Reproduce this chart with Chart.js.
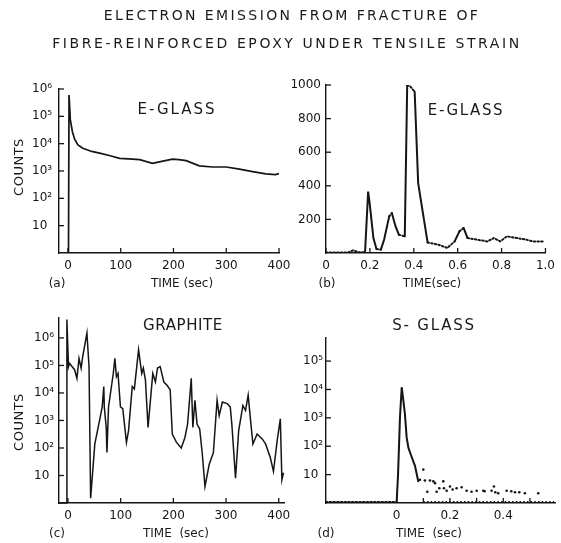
<!DOCTYPE html>
<html lang="en">
<head>
  <meta charset="UTF-8" />
  <title>Electron emission from fracture of fibre-reinforced epoxy</title>
  <script src="https://cdn.jsdelivr.net/npm/chart.js"></script>
  <style>
    html, body { margin: 0; padding: 0; background: #fff; }
    #page { position: relative; width: 561px; height: 543px; overflow: hidden; font-family: "DejaVu Sans", sans-serif; color: #1a1a1a; }
    .layer { position: absolute; left: 0; top: 0; width: 561px; height: 543px; }
    .txt { position: absolute; white-space: nowrap; transform: translate(-50%, -50%); }
  </style>
</head>
<body>
<div id="page">
  <div class="layer"><canvas id="chartA"></canvas></div>
  <div class="layer"><canvas id="chartB"></canvas></div>
  <div class="layer"><canvas id="chartC"></canvas></div>
  <div class="layer"><canvas id="chartD"></canvas></div>

  <div class="txt" style="left:292px;top:15px;font-size:14px;letter-spacing:2.4px">ELECTRON EMISSION FROM FRACTURE OF</div>
  <div class="txt" style="left:287px;top:43px;font-size:14px;letter-spacing:2.6px">FIBRE-REINFORCED EPOXY UNDER TENSILE STRAIN</div>

  <div class="txt" style="left:177px;top:109px;font-size:15px;letter-spacing:2px">E-GLASS</div>
  <div class="txt" style="left:466px;top:110px;font-size:15px;letter-spacing:1.6px">E-GLASS</div>
  <div class="txt" style="left:183px;top:325px;font-size:15px;letter-spacing:0.6px">GRAPHITE</div>
  <div class="txt" style="left:434px;top:325px;font-size:15px;letter-spacing:1.8px">S- GLASS</div>

  <div class="txt" style="left:18px;top:167px;font-size:13px;letter-spacing:0.5px;transform:translate(-50%,-50%) rotate(-90deg)">COUNTS</div>
  <div class="txt" style="left:18px;top:422px;font-size:13px;letter-spacing:0.5px;transform:translate(-50%,-50%) rotate(-90deg)">COUNTS</div>

  <div class="txt" style="left:57px;top:283px;font-size:12px">(a)</div>
  <div class="txt" style="left:182px;top:283px;font-size:12px">TIME (sec)</div>
  <div class="txt" style="left:327px;top:283px;font-size:12px">(b)</div>
  <div class="txt" style="left:432px;top:283px;font-size:12px">TIME(sec)</div>
  <div class="txt" style="left:57px;top:533px;font-size:12px">(c)</div>
  <div class="txt" style="left:176px;top:533px;font-size:12px">TIME &nbsp;(sec)</div>
  <div class="txt" style="left:326px;top:533px;font-size:12px">(d)</div>
  <div class="txt" style="left:429px;top:533px;font-size:12px">TIME &nbsp;(sec)</div>
</div>

<script>
// (a) E-glass, counts vs time (sec)
const aTime   = [-17, 1, 2, 4.5, 8.3, 12.6, 18.9, 28, 36, 45, 60, 80, 98, 115, 136, 160, 180, 198, 210, 224, 249, 274, 300, 325, 350, 375, 393, 400];
const aCounts = [1, 1, 6e5, 7.4e4, 2.8e4, 1.45e4, 9e3, 6.8e3, 6e3, 5.2e3, 4.5e3, 3.6e3, 2.9e3, 2.8e3, 2.6e3, 1.9e3, 2.3e3, 2.7e3, 2.6e3, 2.4e3, 1.55e3, 1.4e3, 1.4e3, 1.17e3, 950, 780, 740, 800];
const aXTicks = [0, 100, 200, 300, 400];
const logTicks = [10, 100, 1e3, 1e4, 1e5, 1e6];
const logLabels = ['10', '10²', '10³', '10⁴', '10⁵', '10⁶'];

// (b) E-glass, first second
const bTime   = [0, 0.10, 0.124, 0.15, 0.178, 0.192, 0.198, 0.216, 0.23, 0.25, 0.265, 0.288, 0.30, 0.317, 0.332, 0.359, 0.37, 0.385, 0.404, 0.42, 0.444, 0.463, 0.511, 0.553, 0.586, 0.608, 0.627, 0.645, 0.69, 0.735, 0.765, 0.794, 0.824, 0.869, 0.914, 0.943, 0.988];
const bCounts = [3, 3, 16, 4, 5, 366, 307, 89, 24, 20, 80, 218, 238, 158, 109, 99, 1000, 990, 960, 416, 218, 63, 50, 30, 69, 129, 149, 89, 79, 69, 89, 69, 99, 89, 79, 69, 69];
const bXTicks = [0, 0.2, 0.4, 0.6, 0.8, 1.0];
const bXLabels = ['0', '0.2', '0.4', '0.6', '0.8', '1.0'];
const bYTicks = [200, 400, 600, 800, 1000];

// (c) graphite
const cTime   = [-17, -3, -2, 1, 3, 8, 12.6, 17, 21, 25, 28, 36, 40, 43, 51, 60, 65, 68, 69, 72.6, 74, 77, 86, 89, 92, 95, 99.6, 104, 111, 115, 122, 126, 134, 140, 143, 147, 152, 161, 166, 170, 175, 182, 188, 194, 198, 206, 215, 222, 227, 234, 237, 241, 245, 250, 255, 260, 268, 276, 283, 287, 293, 302, 308, 311, 318, 324, 332, 337, 342, 346, 351, 359, 369, 375, 384, 390, 397, 403, 406, 409];
const cCounts = [1, 1, 4.7e6, 9e4, 1.2e5, 9e4, 7e4, 3.4e4, 1.8e5, 8e4, 2.1e5, 1.5e6, 9e4, 1.5, 140, 1e3, 3.1e3, 1.7e4, 3.1e3, 560, 68, 3.1e3, 5.1e4, 1.8e5, 3.9e4, 5.1e4, 3.1e3, 2.7e3, 160, 430, 1.7e4, 1.4e4, 3.7e5, 5.1e4, 8e4, 3e4, 560, 5.1e4, 2.5e4, 8e4, 9e4, 2.5e4, 1.9e4, 1.3e4, 320, 160, 100, 240, 740, 3.4e4, 560, 5.4e3, 740, 490, 59, 4, 25, 68, 5.4e3, 1.5e3, 4.7e3, 4.1e3, 3.1e3, 740, 8, 430, 3.5e3, 2.3e3, 8.3e3, 1.3e3, 140, 320, 210, 140, 45, 14, 180, 1.15e3, 7, 12.6];

// (d) S-glass
const dPeakTime   = [-0.265, 0, 0.005, 0.0125, 0.019, 0.025, 0.031, 0.0375, 0.044, 0.053, 0.069, 0.081];
const dPeakCounts = [1.08, 1.08, 8.7, 1050, 1.2e4, 4200, 1380, 204, 89, 51, 20, 5.8];
const dTailTime   = [0.0875, 0.1, 0.106, 0.115, 0.125, 0.1375, 0.144, 0.15, 0.16, 0.175, 0.1775, 0.1875, 0.2, 0.21, 0.225, 0.244, 0.2625, 0.281, 0.3, 0.325, 0.33, 0.356, 0.365, 0.37, 0.381, 0.4125, 0.43, 0.444, 0.46, 0.481, 0.531];
const dTailCounts = [6.6, 15, 6.2, 2.5, 6.2, 5.8, 5, 2.5, 3.3, 5.8, 3.3, 2.7, 3.8, 3.0, 3.3, 3.6, 2.7, 2.5, 2.7, 2.7, 2.6, 2.7, 3.8, 2.4, 2.2, 2.7, 2.6, 2.4, 2.4, 2.2, 2.2];
const dBaseTime   = [0.1, 0.59];
const dBaseCounts = [1.08, 1.08];
const dXTicks = [0, 0.1, 0.2, 0.3, 0.4, 0.5];
const dXLabels = ['0', '', '0.2', '', '0.4', ''];

const INK = '#151515';
const tickFont = { family: 'DejaVu Sans', size: 12 };
const W = 561, H = 543, XH = 22;

const inwardTicks = {
  id: 'inwardTicks',
  afterDraw(chart) {
    const ctx = chart.ctx, a = chart.chartArea;
    const xs = chart.scales.x, ys = chart.scales.y;
    ctx.save();
    ctx.strokeStyle = INK;
    ctx.lineWidth = 1.3;
    xs.ticks.forEach(t => {
      const px = xs.getPixelForValue(t.value);
      ctx.beginPath(); ctx.moveTo(px, a.bottom); ctx.lineTo(px, a.bottom - 5); ctx.stroke();
    });
    ys.ticks.forEach(t => {
      const py = ys.getPixelForValue(t.value);
      ctx.beginPath(); ctx.moveTo(a.left, py); ctx.lineTo(a.left + 5, py); ctx.stroke();
    });
    ctx.restore();
  }
};

function pts(xs, ys) {
  return xs.map((x, i) => ({ x: x, y: ys[i] }));
}

// steep segments solid, flat ones dotted
const dashDot = {
  borderDash: ctx => Math.abs(ctx.p1.y - ctx.p0.y) > 1.5 * Math.abs(ctx.p1.x - ctx.p0.x) ? [] : [1.5, 2.2]
};

function makePanel(id, p, datasets) {
  new Chart(document.getElementById(id), {
    type: 'line',
    data: { datasets: datasets },
    options: {
      responsive: true,
      maintainAspectRatio: false,
      animation: false,
      layout: { padding: { left: p.box[0] - p.yW, top: p.box[1], right: W - p.box[2], bottom: H - p.box[3] - XH } },
      plugins: { legend: { display: false }, tooltip: { enabled: false } },
      scales: {
        x: {
          type: 'linear',
          min: p.xMin, max: p.xMax,
          afterFit: s => { s.height = XH; },
          afterBuildTicks: s => { s.ticks = p.xTicks.map(v => ({ value: v })); },
          ticks: { autoSkip: false, maxRotation: 0, padding: 6, color: INK, font: tickFont,
                   callback: (v, i) => p.xLabels[i] },
          grid: { drawOnChartArea: false, drawTicks: false, color: 'rgba(0,0,0,0)' },
          border: { display: true, color: INK, width: 1.4 }
        },
        y: {
          type: p.yType,
          min: p.yMin, max: p.yMax,
          afterFit: s => { s.width = p.yW; },
          afterBuildTicks: s => { s.ticks = p.yTicks.map(v => ({ value: v })); },
          ticks: { autoSkip: false, padding: p.yPad, crossAlign: p.yAlign, color: INK, font: tickFont,
                   callback: (v, i) => p.yLabels[i] },
          grid: { drawOnChartArea: false, drawTicks: false, color: 'rgba(0,0,0,0)' },
          border: { display: true, color: INK, width: 1.4 }
        }
      }
    },
    plugins: [inwardTicks]
  });
}

makePanel('chartA', {
  box: [59, 89, 279, 253], yW: 27, yPad: 4, yAlign: 'far',
  xMin: -17, xMax: 400, xTicks: aXTicks, xLabels: aXTicks.map(String),
  yType: 'logarithmic', yMin: 1, yMax: 1e6, yTicks: logTicks, yLabels: logLabels
}, [{
  data: pts(aTime, aCounts), borderColor: INK, borderWidth: 1.7, pointRadius: 0, tension: 0
}]);

makePanel('chartB', {
  box: [326, 85, 549, 253], yW: 36, yPad: 5, yAlign: 'near',
  xMin: 0, xMax: 1.0, xTicks: bXTicks, xLabels: bXLabels,
  yType: 'linear', yMin: 0, yMax: 1000, yTicks: bYTicks, yLabels: bYTicks.map(String)
}, [{
  data: pts(bTime, bCounts), borderColor: INK, borderWidth: 2, pointRadius: 0, tension: 0,
  borderCapStyle: 'round', segment: dashDot
}]);

makePanel('chartC', {
  box: [59, 318, 284, 503], yW: 25, yPad: 4, yAlign: 'far',
  xMin: -17, xMax: 410, xTicks: aXTicks, xLabels: aXTicks.map(String),
  yType: 'logarithmic', yMin: 1, yMax: 5.3e6, yTicks: logTicks, yLabels: logLabels
}, [{
  data: pts(cTime, cCounts), borderColor: INK, borderWidth: 1.5, pointRadius: 0, tension: 0, clip: false
}]);

makePanel('chartD', {
  box: [326, 338, 555, 503], yW: 23, yPad: 3, yAlign: 'far',
  xMin: -0.265, xMax: 0.594, xTicks: dXTicks, xLabels: dXLabels,
  yType: 'logarithmic', yMin: 1, yMax: 6.5e5, yTicks: logTicks.slice(0, 5), yLabels: logLabels.slice(0, 5)
}, [{
  data: pts(dPeakTime, dPeakCounts), borderColor: INK, borderWidth: 2, pointRadius: 0, tension: 0,
  borderCapStyle: 'round', segment: dashDot
}, {
  data: pts(dTailTime, dTailCounts), showLine: false, pointRadius: 1.3, pointBackgroundColor: INK, pointBorderWidth: 0
}, {
  data: pts(dBaseTime, dBaseCounts), borderColor: INK, borderWidth: 2, pointRadius: 0, borderDash: [1.5, 2.2]
}]);
</script>
</body>
</html>
